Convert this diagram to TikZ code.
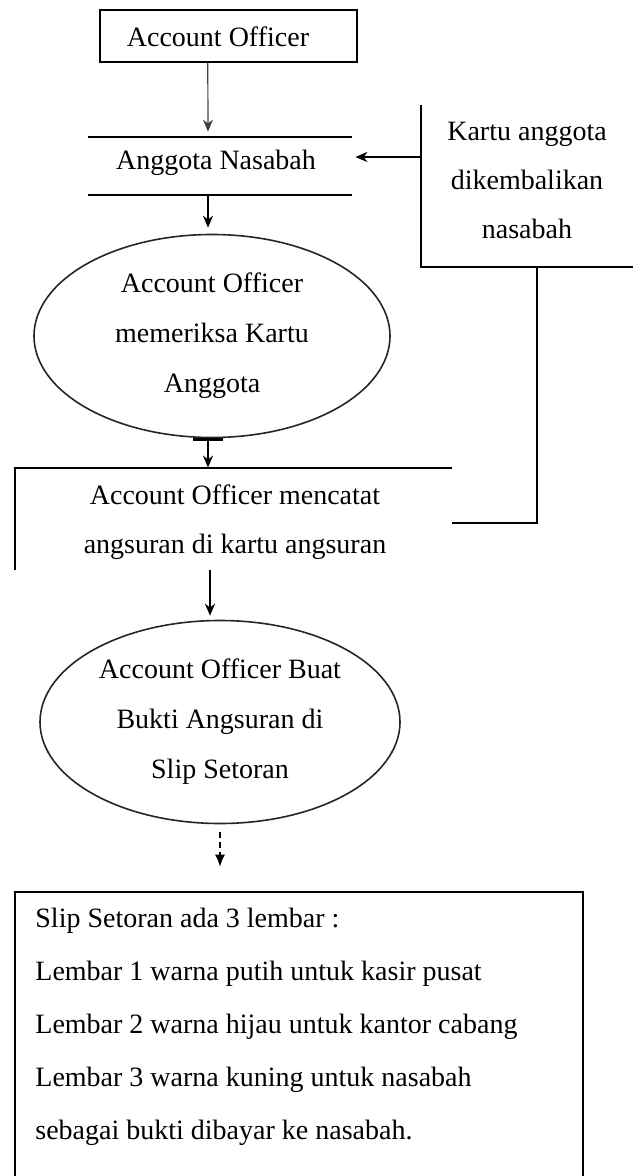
\documentclass[tikz,border=0pt]{standalone}
\usepackage{fontspec}
\setmainfont{Liberation Serif}
\usetikzlibrary{arrows.meta,shapes.geometric,calc}
\begin{document}
\begin{tikzpicture}[x=0.5pt,y=-0.5pt,
  frame/.style={inner sep=0pt},
  txt/.style={align=center, font=\fontsize{14}{24.5}\selectfont, inner sep=0pt},
  slipt/.style={align=left, font=\fontsize{14}{26.5}\selectfont, inner sep=0pt},
  oval/.style={draw=black!85, ellipse, line width=0.8pt, inner sep=0pt, align=center, font=\fontsize{14}{25}\selectfont},
  arr/.style={-{Stealth[length=6pt,width=5pt]}, line width=0.6pt},
  thickarr/.style={-{Stealth[length=6pt,width=5pt]}, line width=1.3pt},
  rim/.style={line width=1pt}]
\useasboundingbox (0,0) rectangle (637,1176);

% nodes
\node[frame, draw, line width=1pt, minimum width=128.5pt, minimum height=26pt] (ao) at (228.5,36) {};
\node[txt] (aot) at (218,37) {Account Officer};

\node[frame, minimum width=132pt, minimum height=29pt] (ang) at (220,166) {};
\node[txt] (angt) at (216,163) {Anggota Nasabah};

\node[frame, minimum width=106pt, minimum height=81pt] (kartu) at (527,186) {};
\node[txt] (kartut) at (527,180) {Kartu anggota\\dikembalikan\\nasabah};

\node[oval, minimum width=178pt, minimum height=101.5pt] (e1) at (212,336)
  {Account Officer\\memeriksa Kartu\\Anggota};

\node[frame, minimum width=218.5pt, minimum height=51pt] (catat) at (233.5,519) {};
\node[txt] (catatt) at (235,522) {Account Officer mencatat\\angsuran di kartu angsuran};

\node[oval, minimum width=180pt, minimum height=101.5pt] (e2) at (220,722)
  {Account Officer Buat\\Bukti Angsuran di\\Slip Setoran};

\node[frame, minimum width=284pt, minimum height=142pt] (slip) at (299,1034) {};
\node[slipt, anchor=north west] (slipt) at (35,908)
  {Slip Setoran ada 3 lembar :\\
   Lembar 1 warna putih untuk kasir pusat\\
   Lembar 2 warna hijau untuk kantor cabang\\
   Lembar 3 warna kuning untuk nasabah\\
   sebagai bukti dibayar ke nasabah.};

% partial frames
\draw[rim] (ang.north west) -- (ang.north east) (ang.south west) -- (ang.south east);
\draw[rim] (kartu.north west) -- (kartu.south west) -- (kartu.south east);
\draw[rim] (catat.south west) -- (catat.north west) -- (catat.north east);
\draw[rim] (slip.south west) -- (slip.north west) -- (slip.north east) -- (slip.south east);

% connectors
\draw[arr, black!75] ($(ao.south west)!0.42!(ao.south east)$) -- ($(ang.north)+(-12,-5)$);
\draw[arr] ($(ang.south)+(-12,0)$) -- ($(e1.north)+(-4,-6)$);
\draw[thickarr, {Bar[width=15pt,line width=1.5pt]}-{Stealth[length=6pt,width=5pt]}] ($(e1.south)+(-4,0)$) -- ($(e1.south |- catat.north)+(-4,0)$);
\draw[thickarr] ($(catat.south)+(-23.5,0)$) -- ($(e2.north)+(-10,-4)$);
\draw[-{Latex[length=6pt,width=5pt]}, line width=0.6pt, densely dashed] ($(e2.south)+(0,8)$) -- ($(e2.south |- slip.north)+(0,-25)$);
\draw[thickarr] ($(kartu.west |- ang.east)+(0,-9)$) -- ($(ang.east)+(3,-9)$);
\draw[rim] ($(kartu.south)+(10,0)$) |- ($(catat.east)+(0,4)$);
\end{tikzpicture}
\end{document}
